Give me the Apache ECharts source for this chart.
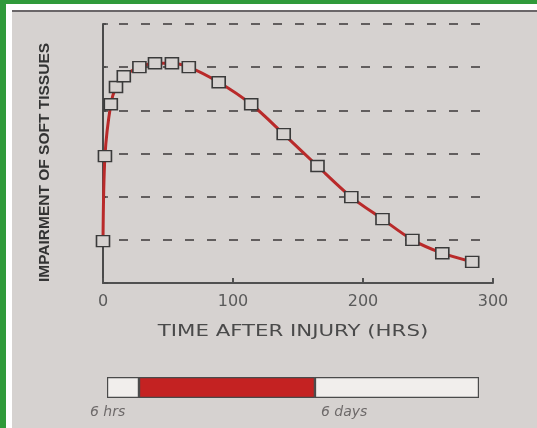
<!DOCTYPE html>
<html>
<head>
<meta charset="utf-8">
<script src="https://cdn.jsdelivr.net/npm/echarts@6/dist/echarts.min.js"></script>
<style>
  html, body { margin: 0; padding: 0; background: #d6d2d0; }
  #chart { width: 537px; height: 428px; }
</style>
</head>
<body>
<div id="chart"></div>
<script>
// hours after injury / impairment level
var hours = [0, 1.5, 6, 10, 16, 28, 40, 53, 66, 89, 114, 139, 165, 191, 215, 238, 261, 284];
var impairment = [0.97, 2.94, 4.14, 4.54, 4.79, 5.0, 5.09, 5.09, 5.0, 4.65, 4.14, 3.45, 2.71, 1.99, 1.48, 1.0, 0.69, 0.49];
var xTicks = [0, 100, 200, 300];
// timeline bar below: lead-in, treatment window (6 hrs -> 6 days), remainder
var timelineParts = [0.086, 0.473, 0.441];
var timelineColors = ["#f1eeec", "#c42222", "#f1eeec"];

var bg = "#d6d2d0";
var chart = echarts.init(document.getElementById("chart"));

var points = hours.map(function (h, i) { return [h, impairment[i]]; });

var option = {
  backgroundColor: bg,
  animation: false,
  grid: [
    { left: 103, right: 44, top: 24, bottom: 145 },
    { left: 107, width: 372, top: 377, height: 21 }
  ],
  xAxis: [
    {
      type: "value", gridIndex: 0, min: 0, max: 300, interval: 100,
      axisLine: { lineStyle: { color: "#505050", width: 2 } },
      axisTick: { inside: true, length: 5, lineStyle: { color: "#505050", width: 2 } },
      axisLabel: {
        color: "#5a5a5a", fontSize: 16, margin: 11, fontFamily: "DejaVu Sans",
        formatter: function (v) { return xTicks.indexOf(v) >= 0 ? String(v) : ""; }
      },
      splitLine: { show: false }
    },
    {
      type: "value", gridIndex: 1, min: 0, max: 1, show: false
    }
  ],
  yAxis: [
    {
      type: "value", gridIndex: 0, min: 0, max: 6, interval: 1,
      name: "IMPAIRMENT OF SOFT TISSUES",
      nameLocation: "middle",
      nameGap: 50,
      nameTextStyle: {
        color: "#333", fontSize: 15.5, fontWeight: "bold", fontFamily: "Liberation Sans",
        padding: [0, 18, 0, 0]
      },
      axisLine: { show: true, lineStyle: { color: "#4a4a4a", width: 2 } },
      axisTick: { show: true, inside: true, length: 5, lineStyle: { color: "#4a4a4a", width: 1.5 } },
      axisLabel: { show: false },
      splitLine: {
        show: true,
        lineStyle: { color: "#625e5e", width: 2, type: [9, 13], dashOffset: -16 }
      }
    },
    {
      type: "category", gridIndex: 1, data: ["t"], show: false
    }
  ],
  graphic: [
    { type: "rect", shape: { x: 0, y: 0, width: 537, height: 4 }, style: { fill: "#2f9a3a" }, z: 100 },
    { type: "rect", shape: { x: 0, y: 0, width: 6, height: 428 }, style: { fill: "#2f9a3a" }, z: 100 },
    { type: "rect", shape: { x: 6, y: 4, width: 531, height: 6 }, style: { fill: "#ffffff" }, z: 99 },
    { type: "rect", shape: { x: 6, y: 4, width: 6, height: 424 }, style: { fill: "#ffffff" }, z: 99 },
    { type: "rect", shape: { x: 12, y: 10, width: 525, height: 2 }, style: { fill: "#6a6668" }, z: 98 },
    // x axis title, stretched wide like the slide
    {
      type: "text", x: 293, y: 332, scaleX: 1.33,
      style: {
        text: "TIME AFTER INJURY (HRS)", fill: "#4a4a4a", fontSize: 16, fontFamily: "DejaVu Sans",
        align: "center", verticalAlign: "middle"
      }
    },
    { type: "text", left: 90, top: 405, style: { text: "6 hrs", fill: "#6e6a6a", fontSize: 14, fontStyle: "italic", fontFamily: "DejaVu Sans" } },
    { type: "text", left: 321, top: 405, style: { text: "6 days", fill: "#6e6a6a", fontSize: 14, fontStyle: "italic", fontFamily: "DejaVu Sans" } }
  ],
  series: [
    {
      type: "line",
      xAxisIndex: 0, yAxisIndex: 0,
      data: points,
      smooth: 0.3,
      symbol: "rect",
      symbolSize: [13, 11],
      lineStyle: { color: "#b92a2a", width: 3 },
      itemStyle: { color: bg, borderColor: "#3a3a3a", borderWidth: 1.5 },
      z: 3
    }
  ].concat(timelineParts.map(function (v, i) {
    return {
      type: "bar",
      xAxisIndex: 1, yAxisIndex: 1,
      stack: "timeline",
      data: [v],
      barWidth: 21,
      itemStyle: { color: timelineColors[i], borderColor: "#4a4a4a", borderWidth: 1.2 }
    };
  }))
};

chart.setOption(option);
</script>
</body>
</html>
